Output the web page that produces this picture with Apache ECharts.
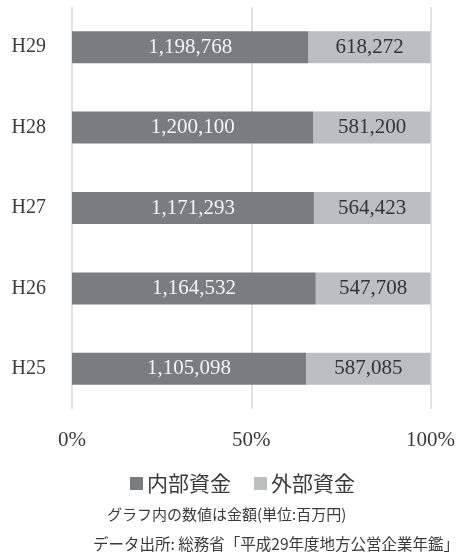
<!DOCTYPE html>
<html>
<head>
<meta charset="utf-8">
<style>
  html, body { margin: 0; padding: 0; background: #ffffff; }
  #chart { width: 458px; height: 556px; }
</style>
<script src="https://cdn.jsdelivr.net/npm/echarts@6/dist/echarts.min.js"></script>
</head>
<body>
<div id="chart"></div>
<script>
// Fiscal years, bottom to top
const years = ['H25', 'H26', 'H27', 'H28', 'H29'];
// Funding amounts (million yen)
const internalFunds = [1105098, 1164532, 1171293, 1200100, 1198768];
const externalFunds = [587085, 547708, 564423, 581200, 618272];
const seriesNames = ['内部資金', '外部資金'];
const tickLabels = ['0%', '50%', '100%'];
const noteText = 'グラフ内の数値は金額(単位:百万円)';
const sourceText = 'データ出所: 総務省「平成29年度地方公営企業年鑑」';

const serif = '"Liberation Serif", "DejaVu Serif", serif';
const cjk = '"Noto Sans CJK JP", "Noto Sans CJK SC", sans-serif';

const fmt = v => v.toLocaleString('en-US');
const share = (a, b) => a.map((v, i) => v / (v + b[i]) * 100);

const internalShare = share(internalFunds, externalFunds);
const externalShare = share(externalFunds, internalFunds);

const chart = echarts.init(document.getElementById('chart'), null, { renderer: 'canvas' });

chart.setOption({
  animation: false,
  grid: { left: 72, right: 26.5, top: 7, height: 402, containLabel: false },
  legend: {
    data: seriesNames,
    top: 468,
    left: 125,
    icon: 'rect',
    itemWidth: 13,
    itemHeight: 13,
    itemGap: 23,
    textStyle: { fontFamily: cjk, fontSize: 21, color: '#3a3a3a', padding: [0, 0, 0, -1] }
  },
  xAxis: {
    type: 'value',
    min: 0,
    max: 100,
    interval: 50,
    axisLine: { show: false },
    axisTick: { show: false },
    splitLine: { show: true, lineStyle: { color: '#d9d9d9', width: 1.5 } },
    axisLabel: {
      margin: 21,
      fontFamily: serif,
      fontSize: 21,
      color: '#3a3a3a',
      formatter: v => tickLabels[Math.round(v / 50)]
    }
  },
  yAxis: {
    type: 'category',
    data: years,
    axisLine: { show: false },
    axisTick: { show: false },
    axisLabel: { margin: 26, fontFamily: serif, fontSize: 20, color: '#3a3a3a' }
  },
  series: [
    {
      name: seriesNames[0],
      type: 'bar',
      stack: 'total',
      barWidth: 32,
      itemStyle: { color: '#7b7c80' },
      label: {
        show: true,
        position: 'inside',
        fontFamily: serif,
        fontSize: 21,
        color: '#f4f4f4',
        formatter: p => fmt(internalFunds[p.dataIndex])
      },
      data: internalShare
    },
    {
      name: seriesNames[1],
      type: 'bar',
      stack: 'total',
      barWidth: 32,
      itemStyle: { color: '#bdbec2' },
      label: {
        show: true,
        position: 'inside',
        fontFamily: serif,
        fontSize: 21,
        color: '#333333',
        formatter: p => fmt(externalFunds[p.dataIndex])
      },
      data: externalShare
    }
  ],
  graphic: [
    {
      type: 'text',
      left: 107,
      top: 507,
      style: { text: noteText, fontFamily: cjk, fontSize: 15, fill: '#3a3a3a' }
    },
    {
      type: 'text',
      left: 93,
      top: 536,
      style: { text: sourceText, fontFamily: cjk, fontSize: 15.5, fill: '#3a3a3a' }
    }
  ]
});
</script>
</body>
</html>
